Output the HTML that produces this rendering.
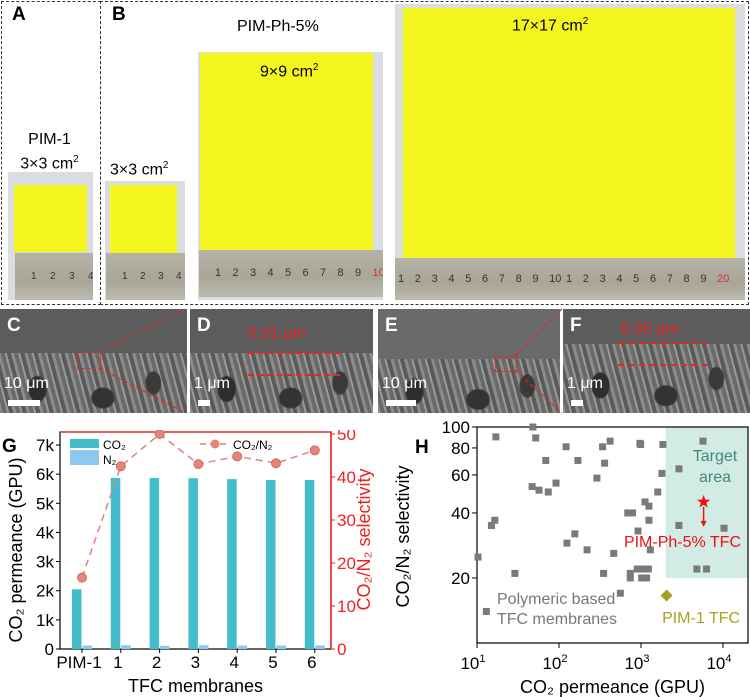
<!DOCTYPE html>
<html><head><meta charset="utf-8">
<style>
body{margin:0;background:#fff;font-family:"Liberation Sans",sans-serif;}
#root{position:relative;width:750px;height:697px;overflow:hidden;background:#fff;}
.abs{position:absolute;}
.lbl{position:absolute;font-weight:bold;font-size:19px;}
.photo{position:absolute;background:#d9dde2;}
.yel{position:absolute;background:#f4f51e;}
.ruler{position:absolute;background:linear-gradient(#b5b2a6,#a9a698 60%,#bdbab0);color:#333;font-size:10px;overflow:hidden;white-space:nowrap;}
.ruler span{display:inline-block;}
.sem{position:absolute;top:309px;height:104px;overflow:hidden;background:#5c5c5c;}
.sem .low{position:absolute;left:0;right:0;bottom:0;background:
 radial-gradient(ellipse 14px 20px at 20% 60%,#2e2e2e 60%,transparent 70%),
 radial-gradient(ellipse 18px 16px at 55% 75%,#333 60%,transparent 70%),
 radial-gradient(ellipse 12px 18px at 82% 50%,#3a3a3a 60%,transparent 70%),
 repeating-linear-gradient(75deg,#8c8c8c 0 3px,#6a6a6a 3px 7px,#999 7px 9px,#5a5a5a 9px 13px);}
.sem .lt{position:absolute;color:#fff;font-weight:bold;font-size:19px;left:7px;top:6px;}
.sem .sc{position:absolute;color:#fff;font-size:16px;left:4px;top:66px;}
.sem .bar{position:absolute;background:#fff;height:6px;left:8px;top:91px;}
</style></head><body>
<div id="root">
<div class="abs" style="left:1px;top:1px;width:98px;height:302px;border:1px dashed #333;"></div>
<div class="abs" style="left:100px;top:1px;width:647px;height:302px;border:1px dashed #333;"></div>
<div class="lbl" style="left:12px;top:4px;">A</div>
<div class="lbl" style="left:112px;top:4px;">B</div>
<div class="abs" style="left:12px;top:130px;font-size:16px;line-height:20px;text-align:center;width:75px;">PIM-1<br>3×3 cm<sup style="font-size:10px">2</sup></div>
<div class="photo" style="left:8px;top:172px;width:85px;height:128px;"></div>
<div class="yel" style="left:14px;top:185px;width:73px;height:67px;"></div>
<div class="ruler" style="left:15px;top:253px;width:78px;height:47px;line-height:47px;padding-left:16px;box-sizing:border-box;"><span style="width:19px">1</span><span style="width:19px">2</span><span style="width:19px">3</span>4</div>
<div class="abs" style="left:110px;top:160px;font-size:16px;">3×3 cm<sup style="font-size:10px">2</sup></div>
<div class="photo" style="left:105px;top:181px;width:80px;height:119px;"></div>
<div class="yel" style="left:110px;top:185px;width:67px;height:68px;"></div>
<div class="ruler" style="left:106px;top:253px;width:79px;height:47px;line-height:47px;padding-left:16px;box-sizing:border-box;"><span style="width:18px">1</span><span style="width:18px">2</span><span style="width:18px">3</span>4</div>
<div class="abs" style="left:237px;top:18px;font-size:16px;">PIM-Ph-5%</div>
<div class="photo" style="left:198px;top:52px;width:185px;height:248px;"></div>
<div class="yel" style="left:200px;top:53px;width:173px;height:197px;"></div>
<div class="abs" style="left:260px;top:62px;font-size:16px;">9×9 cm<sup style="font-size:10px">2</sup></div>
<div class="ruler" style="left:199px;top:250px;width:184px;height:47px;line-height:47px;padding-left:16px;box-sizing:border-box;font-size:11px;"><span style="width:17.5px">1</span><span style="width:17.5px">2</span><span style="width:17.5px">3</span><span style="width:17.5px">4</span><span style="width:17.5px">5</span><span style="width:17.5px">6</span><span style="width:17.5px">7</span><span style="width:17.5px">8</span><span style="width:17.5px">9</span><span style="color:#c33">10</span></div>
<div class="photo" style="left:395px;top:4px;width:350px;height:296px;"></div>
<div class="yel" style="left:403px;top:8px;width:332px;height:250px;"></div>
<div class="abs" style="left:512px;top:16px;font-size:16px;">17×17 cm<sup style="font-size:10px">2</sup></div>
<div class="ruler" style="left:395px;top:258px;width:350px;height:42px;line-height:42px;padding-left:3px;box-sizing:border-box;font-size:11px;"><span style="width:16.8px">1</span><span style="width:16.8px">2</span><span style="width:16.8px">3</span><span style="width:16.8px">4</span><span style="width:16.8px">5</span><span style="width:16.8px">6</span><span style="width:16.8px">7</span><span style="width:16.8px">8</span><span style="width:16.8px">9</span><span style="width:16.8px">10</span><span style="width:16.8px">1</span><span style="width:16.8px">2</span><span style="width:16.8px">3</span><span style="width:16.8px">4</span><span style="width:16.8px">5</span><span style="width:16.8px">6</span><span style="width:16.8px">7</span><span style="width:16.8px">8</span><span style="width:16.8px">9</span><span style="color:#c33">20</span></div>

<div class="sem" style="left:0;width:187px;"><div class="low" style="top:44px"></div><div class="lt">C</div><div class="sc">10 μm</div><div class="bar" style="width:32px"></div><div class="abs" style="left:77px;top:43px;width:22px;height:15px;border:1px dashed #e22;"></div></div>
<div class="sem" style="left:190px;width:183px;"><div class="low" style="top:44px"></div><div class="lt">D</div><div class="abs" style="left:58px;top:16px;color:#e22;font-size:16px;">0.91 μm</div><div class="abs" style="left:58px;top:43px;width:92px;height:20px;border-top:2px dashed #e22;border-bottom:2px dashed #e22;"></div><div class="sc">1 μm</div><div class="bar" style="width:12px"></div></div>
<div class="sem" style="left:378px;width:182px;background:#6a6a6a;"><div class="low" style="top:50px"></div><div class="lt">E</div><div class="abs" style="left:117px;top:47px;width:20px;height:14px;border:1px dashed #e22;"></div><div class="sc">10 μm</div><div class="bar" style="width:30px"></div></div>
<div class="sem" style="left:563px;width:187px;"><div class="low" style="top:35px"></div><div class="lt">F</div><div class="abs" style="left:58px;top:12px;color:#e22;font-size:16px;">0.95 μm</div><div class="abs" style="left:55px;top:33px;width:90px;height:20px;border-top:2px dashed #e22;border-bottom:2px dashed #e22;"></div><div class="sc">1 μm</div><div class="bar" style="width:12px"></div></div>
<svg class="abs" style="left:0;top:0" width="750" height="697"><g stroke="#e22" stroke-dasharray="4,3" stroke-width="1.2"><line x1="99" y1="352" x2="186" y2="309"/><line x1="99" y1="368" x2="186" y2="413"/><line x1="515" y1="356" x2="562" y2="309"/><line x1="515" y1="370" x2="562" y2="413"/></g></svg>

<svg id="g" class="abs" style="left:0;top:430px" width="375" height="267"></svg>
<svg id="h" class="abs" style="left:375px;top:420px" width="375" height="277"></svg>
</div>
<script>
const cats=["PIM-1","1","2","3","4","5","6"];
const co2=[2050,5870,5870,5860,5830,5800,5800];
const n2=[120,130,110,130,120,120,120];
const sel=[16.6,42.5,50,43,44.8,43.2,46.2];
const leftTicks=[0,1000,2000,3000,4000,5000,6000,7000];
const leftTickLabels=["0","1k","2k","3k","4k","5k","6k","7k"];
const rightTicks=[0,10,20,30,40,50];

const hx=[17,48,52,69,122,170,47,57,74,92,290,340,360,420,970,990,1800,1850,1600,2900,5700,1120,1250,690,790,1250,920,2900,10300,15,16.5,156,125,220,465,1300,10.3,29,350,740,740,900,1020,1230,1020,1170,4800,6300,560,13];
const hy=[90,100,89,70,81,70,53,51,50,55,58,81,68,86,84,83,61,83,50,64,86,45,43,40,40,37,33,35,34,35,37,32,29,27,26,27,25,21,21,21,20,22,22,22,20,20,22,22,17,14];
const pim1=[2050,16.6];
const ph5=[5800,45];
const xTicks=[1,2,3,4];
const yTicks=[20,40,60,80,100];

const NS="http://www.w3.org/2000/svg";
function mk(p,tag,attrs,txt){const e=document.createElementNS(NS,tag);for(const k in attrs)e.setAttribute(k,attrs[k]);if(txt!==undefined)e.textContent=txt;p.appendChild(e);return e;}

(function(){
const s=document.getElementById('g');
const L=60,R=331,T=2,B=219;
const yL=v=>B-v*(B-15)/7000;
const yR=v=>B-v*(B-4)/50;
const xC=i=>82+i*38.8;
mk(s,'text',{x:2,y:22,'font-size':19,'font-weight':'bold','font-family':'Liberation Sans'},'G');
const fr=mk(s,'rect',{x:L,y:T,width:R-L,height:B-T,fill:'none',stroke:'#000','stroke-width':1.2});

mk(s,'line',{x1:R,y1:T,x2:R,y2:B,stroke:'#e22','stroke-width':1.5});
mk(s,'line',{x1:L,y1:T,x2:R,y2:T,stroke:'#e22','stroke-width':1.2});
leftTicks.forEach((v,i)=>{mk(s,'line',{x1:L-4,y1:yL(v),x2:L,y2:yL(v),stroke:'#000'});
 const t=mk(s,'text',{x:L-6,y:yL(v)+6,'text-anchor':'end','font-size':17,'font-family':'Liberation Sans'},leftTickLabels[i]);
 });
rightTicks.forEach(v=>{mk(s,'line',{x1:R,y1:yR(v),x2:R+4,y2:yR(v),stroke:'#e22'});
 const t=mk(s,'text',{x:R+6,y:yR(v)+6,'font-size':17,fill:'#e22','font-family':'Liberation Sans'},String(v));
 });
cats.forEach((c,i)=>{
 const b=mk(s,'rect',{x:xC(i)-10,y:yL(co2[i]),width:9.5,height:B-yL(co2[i]),fill:'#45bccb'});
 
 const b2=mk(s,'rect',{x:xC(i)+0.5,y:yL(n2[i]),width:9.5,height:B-yL(n2[i]),fill:'#8cc8f2'});
 
 mk(s,'line',{x1:xC(i),y1:B,x2:xC(i),y2:B+4,stroke:'#000'});
 const t=mk(s,'text',{x:xC(i)-3,y:B+19,'text-anchor':'middle','font-size':17,'font-family':'Liberation Sans'},c);
 
});
const pts=sel.map((v,i)=>xC(i)+','+yR(v)).join(' ');
const pl=mk(s,'polyline',{points:pts,fill:'none',stroke:'#e08080','stroke-width':1.5,'stroke-dasharray':'7,5'});

sel.forEach((v,i)=>{const c=mk(s,'circle',{cx:xC(i),cy:yR(v),r:4.5,fill:'#e8857a',stroke:'#d06a60'});
 });
mk(s,'rect',{x:70,y:9,width:29,height:9,fill:'#45bccb'});
mk(s,'text',{x:103,y:19,'font-size':12,'font-family':'Liberation Sans'},'CO₂');
mk(s,'rect',{x:70,y:20,width:29,height:15,fill:'#8cc8f2'});
mk(s,'text',{x:103,y:34,'font-size':12,'font-family':'Liberation Sans'},'N₂');
mk(s,'line',{x1:200,y1:14,x2:230,y2:14,stroke:'#e08080','stroke-width':1.5,'stroke-dasharray':'6,4'});
mk(s,'circle',{cx:215,cy:14,r:4.5,fill:'#e8857a'});
mk(s,'text',{x:233,y:19,'font-size':12,'font-family':'Liberation Sans'},'CO₂/N₂');
const yt=mk(s,'text',{transform:'translate(22,120) rotate(-90)','text-anchor':'middle','font-size':18,'font-family':'Liberation Sans'},'CO₂ permeance (GPU)');

const yt2=mk(s,'text',{transform:'translate(370,'+(B/2)+') rotate(-90)','text-anchor':'middle','font-size':18,fill:'#e22','font-family':'Liberation Sans'},'CO₂/N₂ selectivity');

const xt=mk(s,'text',{x:(L+R)/2,y:B+43,'text-anchor':'middle','font-size':18,'font-family':'Liberation Sans'},'TFC membranes');

})();

(function(){
const s=document.getElementById('h');
const L=102,R=373,T=7,B=223;
const xs=v=>L+(Math.log10(v)-1)*82;
const ys=v=>B-(Math.log10(v)-1)*(B-T);
mk(s,'text',{x:40,y:33,'font-size':19,'font-weight':'bold','font-family':'Liberation Sans'},'H');
const ta=mk(s,'rect',{x:xs(2000),y:T,width:R-xs(2000),height:ys(20)-T,fill:'#d3ebe5'});

mk(s,'rect',{x:L,y:T,width:R-L,height:B-T,fill:'none',stroke:'#000','stroke-width':1.2});
xTicks.forEach(p=>{const x=xs(Math.pow(10,p));mk(s,'line',{x1:x,y1:B,x2:x,y2:B+5,stroke:'#000'});
 const t=mk(s,'text',{x:x-4,y:B+26,'text-anchor':'middle','font-size':17,'font-family':'Liberation Sans'},'10');
 mk(t,'tspan',{dy:-7,'font-size':11},String(p));
 });
yTicks.forEach(v=>{const y=ys(v);mk(s,'line',{x1:L-5,y1:y,x2:L,y2:y,stroke:'#000'});
 const t=mk(s,'text',{x:L-7,y:y+6,'text-anchor':'end','font-size':17,'font-family':'Liberation Sans'},String(v));
 });
hx.forEach((v,i)=>{const r=mk(s,'rect',{x:xs(v)-3.5,y:ys(hy[i])-3.5,width:7,height:7,fill:'#7a7a7a'});
 });
const dx=xs(pim1[0]),dy=ys(pim1[1]);
const d=mk(s,'polygon',{points:`${dx},${dy-6} ${dx+6},${dy} ${dx},${dy+6} ${dx-6},${dy}`,fill:'#a8a020'});

const sx=xs(ph5[0]),sy=ys(ph5[1]);
let sp=[];for(let k=0;k<10;k++){const a=-Math.PI/2+k*Math.PI/5,r=k%2?2.8:7;sp.push((sx+r*Math.cos(a))+','+(sy+r*Math.sin(a)));}
const st=mk(s,'polygon',{points:sp.join(' '),fill:'#e11'});

mk(s,'line',{x1:sx,y1:sy+5,x2:sx,y2:sy+22,stroke:'#e11','stroke-width':1.5});
mk(s,'polygon',{points:`${sx-3},${sy+19} ${sx+3},${sy+19} ${sx},${sy+25}`,fill:'#e11'});
mk(s,'text',{x:340,y:41,'text-anchor':'middle','font-size':16,fill:'#3e8a76','font-family':'Liberation Sans'},'Target');
mk(s,'text',{x:340,y:62,'text-anchor':'middle','font-size':16,fill:'#3e8a76','font-family':'Liberation Sans'},'area');
mk(s,'text',{x:366,y:127,'text-anchor':'end','font-size':16,fill:'#e11','font-family':'Liberation Sans'},'PIM-Ph-5% TFC');
mk(s,'text',{x:365,y:203,'text-anchor':'end','font-size':16,fill:'#a8a020','font-family':'Liberation Sans'},'PIM-1 TFC');
mk(s,'text',{x:122,y:184,'font-size':16,fill:'#777','font-family':'Liberation Sans'},'Polymeric based');
mk(s,'text',{x:122,y:204,'font-size':16,fill:'#777','font-family':'Liberation Sans'},'TFC membranes');
const yt=mk(s,'text',{transform:'translate(34,'+(B/2+5)+') rotate(-90)','text-anchor':'middle','font-size':18,'font-family':'Liberation Sans'},'CO₂/N₂ selectivity');

const xt=mk(s,'text',{x:(L+R)/2,y:B+50,'text-anchor':'middle','font-size':18,'font-family':'Liberation Sans'},'CO₂ permeance (GPU)');

})();
</script>
</body></html>
